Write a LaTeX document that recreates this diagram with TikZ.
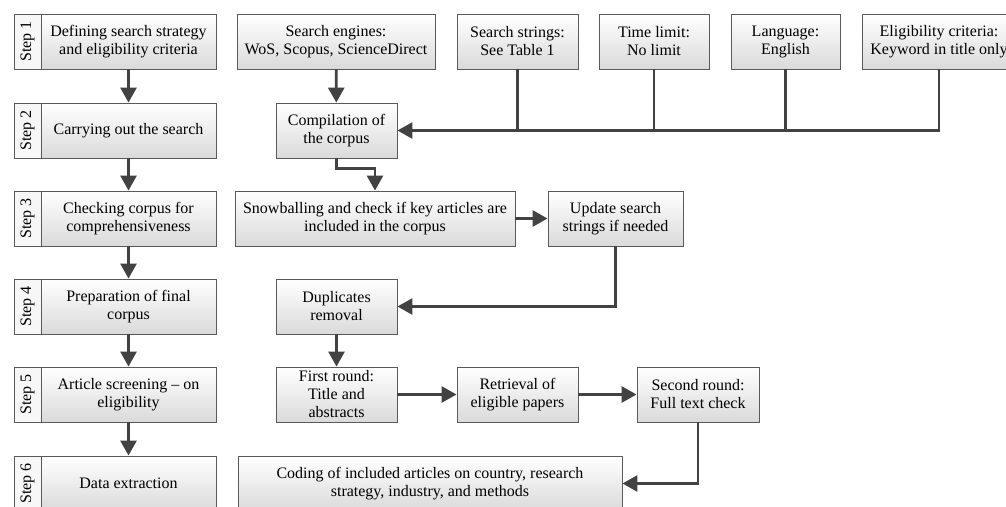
\documentclass[tikz,border=0pt]{standalone}
\usepackage{fontspec}
\setmainfont{Liberation Serif}
\usetikzlibrary{arrows.meta, positioning, calc}
\definecolor{boxline}{HTML}{5A5A5A}
\definecolor{boxshade}{HTML}{DADADA}
\definecolor{arrowink}{HTML}{424242}
\tikzset{
  stepbox/.style  = {rectangle, draw=boxline, line width=0.9pt, top color=white,
                      bottom color=boxshade, minimum width=175pt, minimum height=55pt,
                      align=center, font=\fontsize{16}{18}\selectfont, inner sep=2pt},
  steplab/.style  = {rectangle, draw=boxline, line width=0.9pt, fill=black!3, rotate=90,
                      minimum width=55pt, minimum height=27pt, inner sep=0pt,
                      font=\fontsize{16}{18}\selectfont},
  task/.style     = {rectangle, draw=boxline, line width=0.9pt, top color=white,
                      bottom color=boxshade, minimum height=55pt,
                      align=center, font=\fontsize{16}{18}\selectfont, inner sep=2pt},
  flow/.style     = {-{Triangle[length=15pt,width=16pt]}, line width=2.8pt, draw=arrowink},
  feed/.style     = {line width=2.8pt, draw=arrowink},
}
\begin{document}
\begin{tikzpicture}[x=1pt, y=-1pt]
  \useasboundingbox (0,0) rectangle (1006,506);

  % steps
  \node[steplab] (l1) at (27.5,41.5) {Step 1};
  \node[stepbox] (s1) at (128.5,41.5) {Defining search strategy\\and eligibility criteria};
  \node[steplab] (l2) at (27.5,130.5) {Step 2};
  \node[stepbox] (s2) at (128.5,130.5) {Carrying out the search};
  \node[steplab] (l3) at (27.5,218.5) {Step 3};
  \node[stepbox] (s3) at (128.5,218.5) {Checking corpus for\\comprehensiveness};
  \node[steplab] (l4) at (27.5,306.5) {Step 4};
  \node[stepbox] (s4) at (128.5,306.5) {Preparation of final\\corpus};
  \node[steplab] (l5) at (27.5,394.5) {Step 5};
  \node[stepbox] (s5) at (128.5,394.5) {Article screening -- on\\eligibility};
  \node[steplab] (l6) at (27.5,483.5) {Step 6};
  \node[stepbox] (s6) at (128.5,483.5) {Data extraction};

  % search setup
  \node[task, minimum width=198pt] (engines) at (336,41.5) {Search engines:\\WoS, Scopus, ScienceDirect};
  \node[task, minimum width=121pt] (strings) at (517.5,41.5) {Search strings:\\See Table 1};
  \node[task, minimum width=110pt] (timelim) at (654,41.5) {Time limit:\\No limit};
  \node[task, minimum width=109pt] (lang) at (785.5,41.5) {Language:\\English};
  \node[task, minimum width=154pt] (elig) at (939,41.5) {Eligibility criteria:\\Keyword in title only};

  % corpus
  \node[task, minimum width=121pt] (compile) at (336.5,130.5) {Compilation of\\the corpus};
  \node[task, minimum width=280pt] (snow) at (375,218.5) {Snowballing and check if key articles are\\included in the corpus};
  \node[task, minimum width=135pt] (update) at (615.5,218.5) {Update search\\strings if needed};
  \node[task, minimum width=121pt] (dup) at (336.5,306.5) {Duplicates\\removal};
  \node[task, minimum width=121pt] (first) at (336.5,394.5) {First round:\\Title and\\abstracts};
  \node[task, minimum width=121pt] (retr) at (517.5,394.5) {Retrieval of\\eligible papers};
  \node[task, minimum width=122pt] (second) at (698,394.5) {Second round:\\Full text check};
  \node[task, minimum width=384pt] (coding) at (430,483.5) {Coding of included articles on country, research\\strategy, industry, and methods};

  \draw[flow] (s1) -- (s2);
  \draw[flow] (s2) -- (s3);
  \draw[flow] (s3) -- (s4);
  \draw[flow] (s4) -- (s5);
  \draw[flow] (s5) -- (s6);

  \draw[flow] (engines) -- (compile);
  \draw[flow] (elig.south) |- (compile.east);
  \draw[feed] (strings.south) -- (strings.south |- compile.east);
  \draw[feed] (timelim.south) -- (timelim.south |- compile.east);
  \draw[feed] (lang.south) -- (lang.south |- compile.east);

  \draw[flow] (compile.south) -- ++(0,10) -| (snow.north);
  \draw[flow] (snow) -- (update);
  \draw[flow] (update.south) |- (dup.east);
  \draw[flow] (dup) -- (first);
  \draw[flow] (first) -- (retr);
  \draw[flow] (retr) -- (second);
  \draw[flow] (second.south) |- (coding.east);
\end{tikzpicture}
\end{document}
